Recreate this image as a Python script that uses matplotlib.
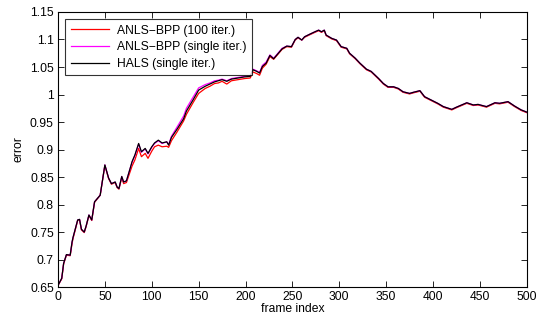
import matplotlib
matplotlib.use("Agg")
import matplotlib.pyplot as plt
from matplotlib.ticker import FuncFormatter

plt.rcParams['font.family'] = ['Liberation Sans', 'DejaVu Sans']

# frame positions of the sampled points
frames = [0, 4, 6, 9, 13, 15, 16, 21, 23, 25, 28, 30, 33, 36, 39, 45, 50, 54, 57, 61,
          63, 65, 68, 70, 73, 77, 79, 82, 86, 89, 93, 96, 100, 103, 107, 111, 116, 118, 121, 127,
          134, 137, 144, 150, 157, 162, 167, 171, 175, 180, 185, 192, 199, 205, 208, 212, 215, 218, 222, 226,
          230, 235, 239, 244, 249, 253, 256, 260, 263, 269, 274, 278, 281, 284, 286, 292, 297, 302, 308, 311,
          317, 322, 329, 334, 342, 347, 352, 358, 363, 368, 375, 379, 386, 391, 398, 405, 411, 420, 425, 436,
          443, 448, 457, 466, 471, 480, 487, 494, 500]

hals = [0.653, 0.666, 0.693, 0.709, 0.708, 0.732, 0.740, 0.772, 0.773, 0.755, 0.750, 0.761, 0.781, 0.772, 0.805, 0.817, 0.872, 0.848, 0.838, 0.841,
        0.832, 0.829, 0.851, 0.841, 0.843, 0.866, 0.878, 0.890, 0.911, 0.896, 0.902, 0.893, 0.905, 0.912, 0.917, 0.912, 0.914, 0.908, 0.922, 0.937,
        0.956, 0.970, 0.990, 1.008, 1.015, 1.019, 1.023, 1.025, 1.027, 1.024, 1.028, 1.030, 1.032, 1.033, 1.045, 1.042, 1.039, 1.051, 1.057, 1.071,
        1.065, 1.075, 1.083, 1.088, 1.087, 1.100, 1.104, 1.099, 1.105, 1.110, 1.114, 1.117, 1.114, 1.117, 1.108, 1.102, 1.099, 1.087, 1.084, 1.075,
        1.066, 1.057, 1.046, 1.042, 1.029, 1.020, 1.014, 1.014, 1.011, 1.005, 1.002, 1.004, 1.007, 0.996, 0.990, 0.984, 0.978, 0.973, 0.977, 0.985,
        0.981, 0.982, 0.978, 0.985, 0.984, 0.987, 0.979, 0.972, 0.968]

anls_single = [0.653, 0.666, 0.693, 0.709, 0.708, 0.732, 0.740, 0.772, 0.773, 0.755, 0.750, 0.761, 0.781, 0.772, 0.805, 0.817, 0.872, 0.848, 0.838, 0.841,
               0.832, 0.829, 0.851, 0.841, 0.843, 0.866, 0.877, 0.889, 0.910, 0.895, 0.901, 0.892, 0.904, 0.911, 0.916, 0.911, 0.914, 0.909, 0.924, 0.941,
               0.961, 0.975, 0.995, 1.012, 1.018, 1.021, 1.025, 1.026, 1.028, 1.025, 1.029, 1.031, 1.033, 1.034, 1.046, 1.043, 1.040, 1.053, 1.059, 1.072,
               1.066, 1.076, 1.084, 1.088, 1.087, 1.100, 1.104, 1.099, 1.105, 1.110, 1.114, 1.117, 1.114, 1.117, 1.108, 1.102, 1.099, 1.087, 1.084, 1.075,
               1.066, 1.057, 1.046, 1.042, 1.029, 1.020, 1.014, 1.014, 1.011, 1.005, 1.002, 1.004, 1.007, 0.996, 0.990, 0.984, 0.978, 0.973, 0.977, 0.985,
               0.981, 0.982, 0.978, 0.985, 0.984, 0.987, 0.979, 0.972, 0.968]

anls_100 = [0.653, 0.665, 0.692, 0.708, 0.707, 0.729, 0.738, 0.771, 0.772, 0.754, 0.749, 0.760, 0.780, 0.771, 0.804, 0.817, 0.871, 0.847, 0.837, 0.840,
            0.831, 0.828, 0.849, 0.838, 0.840, 0.860, 0.870, 0.881, 0.902, 0.887, 0.893, 0.884, 0.897, 0.905, 0.908, 0.905, 0.906, 0.904, 0.916, 0.932,
            0.952, 0.964, 0.985, 1.002, 1.011, 1.015, 1.020, 1.021, 1.024, 1.019, 1.025, 1.027, 1.029, 1.030, 1.041, 1.038, 1.035, 1.048, 1.055, 1.069,
            1.064, 1.074, 1.082, 1.087, 1.086, 1.099, 1.103, 1.099, 1.104, 1.109, 1.113, 1.116, 1.113, 1.116, 1.107, 1.101, 1.098, 1.086, 1.083, 1.074,
            1.065, 1.056, 1.045, 1.041, 1.028, 1.019, 1.013, 1.013, 1.010, 1.004, 1.001, 1.003, 1.006, 0.995, 0.989, 0.983, 0.977, 0.972, 0.976, 0.984,
            0.980, 0.981, 0.977, 0.984, 0.983, 0.986, 0.978, 0.971, 0.967]

fig = plt.figure(figsize=(5.37, 3.24), dpi=100)
ax = fig.add_axes([0.108, 0.114, 0.873, 0.849])

ax.plot(frames, anls_100, color='#ff0000', lw=0.9, label='ANLS\u2212BPP (100 iter.)')
ax.plot(frames, anls_single, color='#ff00ff', lw=0.9, label='ANLS\u2212BPP (single iter.)')
ax.plot(frames, hals, color='black', lw=0.9, label='HALS (single iter.)')

ax.set_xlim(0, 500)
ax.set_ylim(0.65, 1.15)
ax.set_xticks(range(0, 501, 50))
ax.set_yticks([0.65 + 0.05 * i for i in range(11)])
ax.yaxis.set_major_formatter(FuncFormatter(lambda v, p: '%g' % round(v, 2)))
ax.tick_params(direction='in', top=True, right=True, labelsize=8.7, length=4, width=0.6, pad=3)
for s in ax.spines.values():
    s.set_linewidth(0.8)

ax.set_xlabel('frame index', fontsize=8.7, labelpad=0)
ax.set_ylabel('error', fontsize=8.7, labelpad=4)

leg = ax.legend(loc='upper left', fontsize=8.7, frameon=True, fancybox=False,
                edgecolor='black', handlelength=3.2, borderaxespad=0.6,
                borderpad=0.45, labelspacing=0.38, handletextpad=0.6)
leg.get_frame().set_linewidth(0.8)

fig.savefig('out.png', dpi=100)
